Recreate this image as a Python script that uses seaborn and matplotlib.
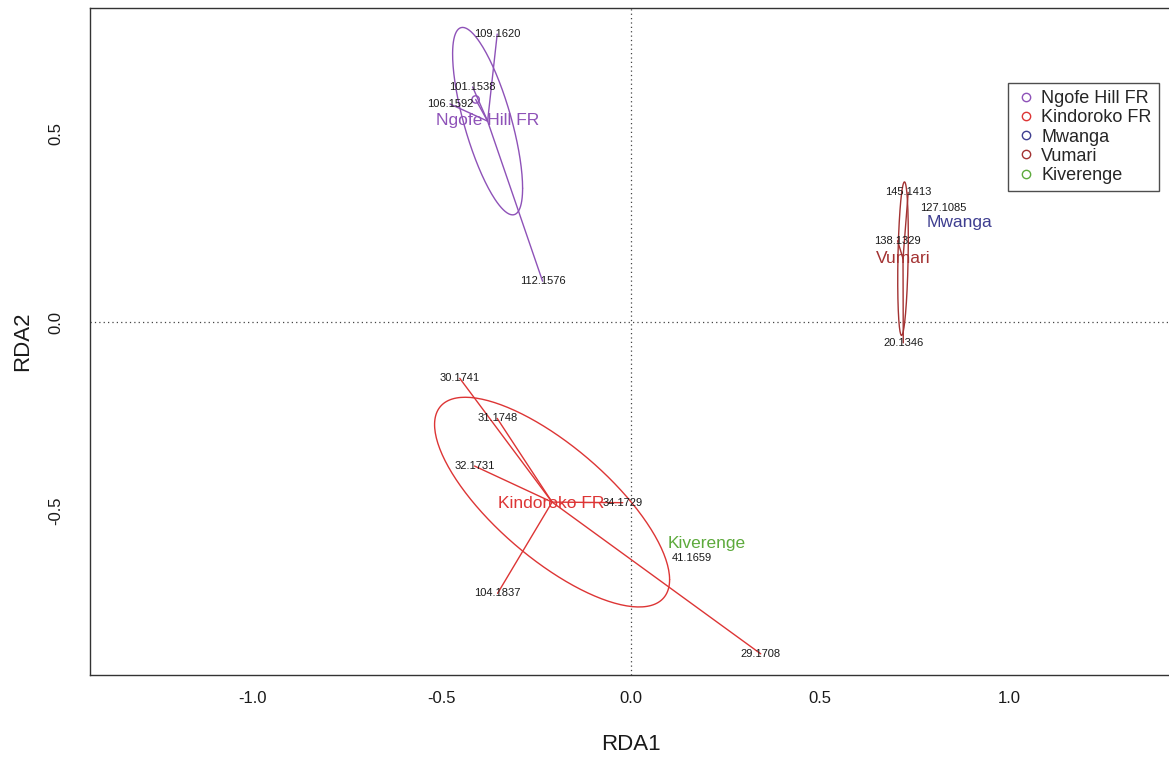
import numpy as np
import pandas as pd
import matplotlib
matplotlib.use("Agg")
import matplotlib.pyplot as plt
import seaborn as sns
from matplotlib.lines import Line2D

# ---------------- data ----------------
groups = ["Ngofe Hill FR", "Kindoroko FR", "Mwanga", "Vumari", "Kiverenge"]
group_colors = ["#8E52B8", "#DD3535", "#3E3E90", "#A33232", "#5DAA3C"]

sample_ids = ["109.1620", "101.1538", "106.1592", "112.1576", "",
              "30.1741", "31.1748", "32.1731", "34.1729", "104.1837", "29.1708",
              "127.1085",
              "145.1413", "138.1329", "20.1346",
              "41.1659"]
sample_group = ["Ngofe Hill FR"] * 5 + ["Kindoroko FR"] * 6 + ["Mwanga"] + ["Vumari"] * 3 + ["Kiverenge"]
rda1 = [-0.353, -0.418, -0.478, -0.233, -0.410,
        -0.452, -0.353, -0.413, -0.021, -0.352, 0.344,
        0.826,
        0.734, 0.706, 0.721,
        0.161]
rda2 = [0.762, 0.622, 0.577, 0.108, 0.589,
        -0.149, -0.255, -0.381, -0.478, -0.718, -0.878,
        0.303,
        0.343, 0.215, -0.055,
        -0.624]

# group label positions
group_label_rda1 = [-0.378, -0.209, 0.871, 0.720, 0.201]
group_label_rda2 = [0.534, -0.479, 0.263, 0.169, -0.587]

x_ticks = [-1.0, -0.5, 0.0, 0.5, 1.0]
y_ticks = [-0.5, 0.0, 0.5]

df = pd.DataFrame({"id": sample_ids, "group": sample_group, "RDA1": rda1, "RDA2": rda2})
palette = dict(zip(groups, group_colors))

# ---------------- figure ----------------
sns.set_theme(style="white")
plt.rcParams["font.family"] = ["Liberation Sans", "DejaVu Sans"]
plt.rcParams["axes.unicode_minus"] = False

fig = plt.figure(figsize=(11.69, 7.60), dpi=100)
ax = fig.add_axes([90 / 1169, 85 / 760, 1 - 90 / 1169 + 0.002, (675 - 8) / 760])

ax.axhline(0, color="#444444", lw=0.9, ls=(0, (1, 2.5)), zorder=1)
ax.axvline(0, color="#444444", lw=0.9, ls=(0, (1, 2.5)), zorder=1)

t = np.linspace(0, 2 * np.pi, 200)
for g in groups:
    sub = df[df.group == g]
    col = palette[g]
    cx, cy = sub.RDA1.mean(), sub.RDA2.mean()
    # spider lines
    for _, r in sub.iterrows():
        ax.plot([cx, r.RDA1], [cy, r.RDA2], color=col, lw=1.0, zorder=2)
    # 1-sd ellipse
    if len(sub) >= 3:
        cov = np.cov(sub[["RDA1", "RDA2"]].values.T)
        L = np.linalg.cholesky(cov)
        pts = np.array([cx, cy])[:, None] + L @ np.vstack([np.cos(t), np.sin(t)])
        ax.plot(pts[0], pts[1], color=col, lw=1.0, zorder=2)

# unlabeled sample drawn as point
unl = df[df.id == ""]
sns.scatterplot(data=unl, x="RDA1", y="RDA2", hue="group", palette=palette,
                marker="o", s=28, linewidth=1.0, legend=False, ax=ax, zorder=3)
for coll in ax.collections:
    coll.set_facecolor("none")
    coll.set_edgecolor([palette[g] for g in unl.group])

# sample labels
for _, r in df[df.id != ""].iterrows():
    ax.text(r.RDA1, r.RDA2, r.id, ha="center", va="center", fontsize=8, color="#1a1a1a", zorder=4)

# group labels
for g, lx, ly in zip(groups, group_label_rda1, group_label_rda2):
    ax.text(lx, ly, g, ha="center", va="center", fontsize=12.5, color=palette[g], zorder=4)

ax.set_xlim(-1.43, 1.43)
ax.set_ylim(-0.934, 0.831)
ax.set_xticks(x_ticks)
ax.set_yticks(y_ticks)
ax.set_xticklabels([f"{v:.1f}" for v in x_ticks])
ax.set_yticklabels([f"{v:.1f}" for v in y_ticks], rotation=90, va="center")
ax.tick_params(axis="both", which="major", direction="out", length=8, width=1,
               color="#333333", labelsize=12, labelcolor="#1a1a1a")
ax.tick_params(axis="x", pad=3.5)
ax.tick_params(axis="y", pad=11)
for s in ax.spines.values():
    s.set_color("#333333")
    s.set_linewidth(1.0)

ax.set_xlabel("RDA1", fontsize=16, labelpad=20, color="#1a1a1a")
ax.set_ylabel("RDA2", fontsize=16, labelpad=11, color="#1a1a1a")

handles = [Line2D([0], [0], marker="o", ls="none", markerfacecolor="none",
                  markeredgecolor=c, markersize=6, markeredgewidth=1.0) for c in group_colors]
leg = fig.legend(handles, groups, loc="upper left", bbox_to_anchor=(1008 / 1169, 1 - 83 / 760),
                 frameon=True, fancybox=False, fontsize=13, handletextpad=0.25,
                 borderpad=0.4, labelspacing=0.12, handlelength=1.2, borderaxespad=0)
leg.get_frame().set_edgecolor("#222222")
leg.get_frame().set_linewidth(1.0)

fig.savefig("out.png", dpi=100)
